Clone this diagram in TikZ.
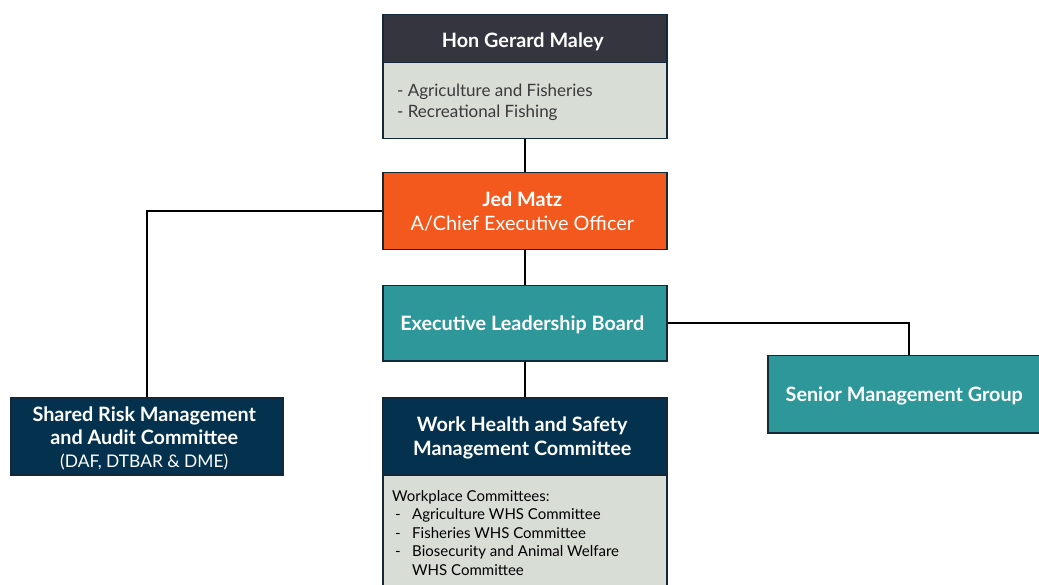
\documentclass[tikz,border=0pt]{standalone}
\usepackage{fontspec}
\setmainfont{Lato}
\definecolor{edge}{HTML}{13293A}
\definecolor{slate}{HTML}{35353F}
\definecolor{sage}{HTML}{D8DDD5}
\definecolor{flame}{HTML}{F3581D}
\definecolor{teal}{HTML}{2D9799}
\definecolor{navy}{HTML}{04324E}
\definecolor{bodytext}{HTML}{3A3A3A}
\begin{document}
\begin{tikzpicture}[x=1pt,y=-1pt,
  box/.style={draw=edge, line width=1.5pt, inner sep=0pt, anchor=north west},
  title/.style={inner sep=0pt, text=white, align=center,
    font=\fontsize{19.8}{24}\selectfont\bfseries},
  link/.style={draw=black, line width=1.6pt}]
\useasboundingbox (0,0) rectangle (1039,585);

% Minister
\node[box, fill=slate, minimum width=284pt, minimum height=48pt] (min) at (382,14) {};
\node[title] (mintext) at ([shift={(-2,3)}]min.center) {Hon Gerard Maley};
\node[box, fill=sage, minimum width=284pt, minimum height=76pt] (port) at (382,62) {};
\node[anchor=west, inner sep=0pt, text=bodytext, align=left,
  font=\fontsize{17}{21}\selectfont] (porttext) at ([shift={(15,2)}]port.west)
  {- Agriculture and Fisheries\\- Recreational Fishing};

% Chief executive
\node[box, fill=flame, minimum width=284pt, minimum height=77pt] (ceo) at (382,172) {};
\node[title] (ceotext) at ([shift={(-2.5,0)}]ceo.center)
  {Jed Matz\\{\mdseries A/Chief Executive Officer}};

% Executive Leadership Board
\node[box, fill=teal, minimum width=284pt, minimum height=75pt] (elb) at (382,285) {};
\node[title] (elbtext) at ([shift={(-2.5,2)}]elb.center) {Executive Leadership Board};

% Shared Risk Management and Audit Committee
\node[box, fill=navy, minimum width=272pt, minimum height=77pt] (risk) at (10,397) {};
\node[title, font=\fontsize{19.8}{23}\selectfont\bfseries] (risktext) at ([shift={(-2.5,2)}]risk.center)
  {Shared Risk Management\\and Audit Committee\\{\fontsize{17.4}{23}\selectfont\mdseries (DAF, DTBAR \& DME)}};

% Work Health and Safety
\node[box, fill=navy, minimum width=284pt, minimum height=77pt] (whs) at (382,397) {};
\node[title] (whstext) at ([shift={(-2.5,2)}]whs.center)
  {Work Health and Safety\\Management Committee};
\node[box, fill=sage, minimum width=284pt, minimum height=125pt] (wpc) at (382,474) {};
\node[anchor=north west, inner sep=0pt, text=black, align=left,
  font=\fontsize{15}{18.5}\selectfont] (wpclist) at ([shift={(10,16)}]wpc.north west)
  {Workplace Committees:\\
   \hspace*{3pt}\makebox[17pt][l]{-}Agriculture WHS Committee\\
   \hspace*{3pt}\makebox[17pt][l]{-}Fisheries WHS Committee\\
   \hspace*{3pt}\makebox[17pt][l]{-}Biosecurity and Animal Welfare\\
   \hspace*{20pt}WHS Committee};

% Senior Management Group
\node[box, fill=teal, minimum width=275pt, minimum height=77pt] (smg) at (767,355) {};
\node[title] (smgtext) at ([shift={(-1,2)}]smg.center) {Senior Management Group};

% Reporting lines
\draw[link] (port.south) -- (ceo.north);
\draw[link] (ceo.west) -| (risk.north -| 147,0);
\draw[link] (ceo.south) -- (elb.north);
\draw[link] (elb.south) -- (whs.north);
\draw[link] (elb.east) -| (909,355);
\end{tikzpicture}
\end{document}
